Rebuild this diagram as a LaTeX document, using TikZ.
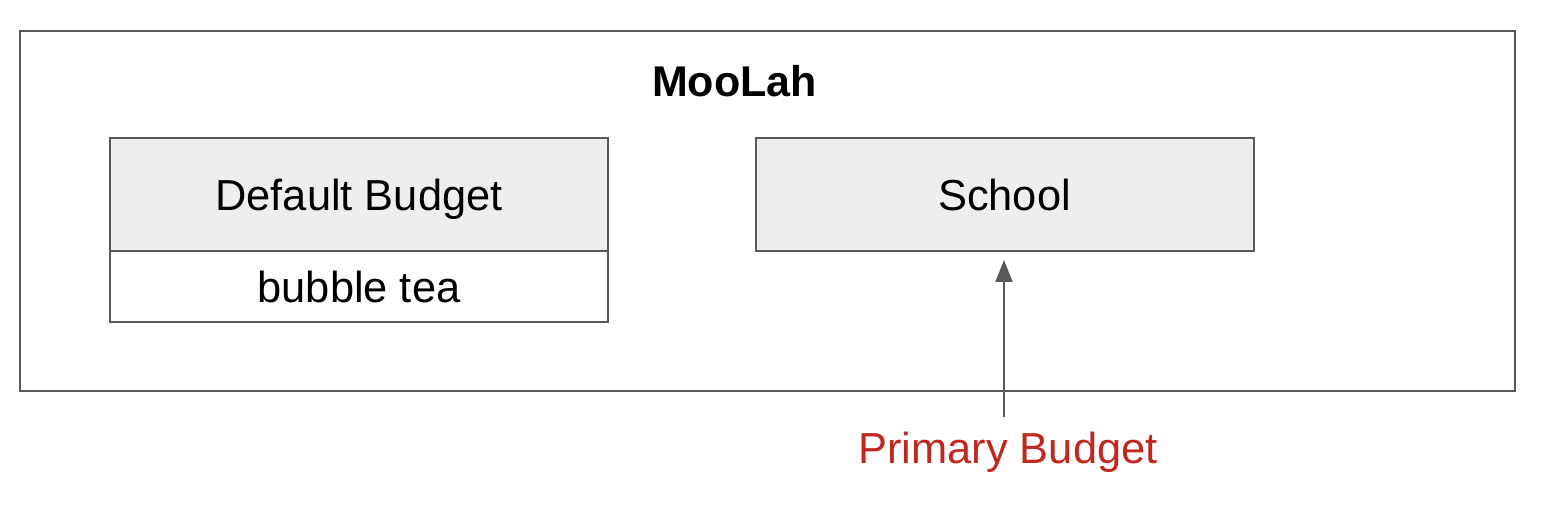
\documentclass[tikz,border=0pt]{standalone}
\usepackage{fontspec}
\setmainfont{Liberation Sans}
\usetikzlibrary{positioning,arrows.meta}

\definecolor{linegray}{HTML}{595959}
\definecolor{headfill}{HTML}{EEEEEE}
\definecolor{notered}{RGB}{192,40,30}

\begin{document}
\begin{tikzpicture}[
                x=0.5pt, y=-0.5pt,
                box/.style={draw=linegray, line width=1pt, rectangle, inner sep=0pt, outer sep=0pt,
                            minimum width=249pt, font=\fontsize{21.7}{26}\selectfont},
                headbox/.style={box, fill=headfill, minimum height=56.5pt, text depth=0pt},
                itembox/.style={box, fill=white, minimum height=35.5pt},
                arr/.style={draw=linegray, line width=1pt, -{Triangle[length=11pt,width=8.5pt]}}
            ]
                \useasboundingbox (0,0) rectangle (1554,518);
                \node (frame) [draw=linegray, line width=1pt, rectangle, inner sep=0pt,
                               minimum width=747.5pt, minimum height=180pt] at (767.5,211) {};
                \node (title) at (734.5,81) {\fontsize{21.5}{26}\selectfont\bfseries MooLah};
                \node (default) [headbox] at (359,194.5) {Default Budget};
                \node (tea) [itembox, below=0pt of default] {bubble tea};
                \node (school) [headbox] at (1004.5,194.5) {School};
                \node (prim) [text=notered, font=\fontsize{21.7}{26}\selectfont] at (1008,452) {Primary Budget};
                \coordinate (tail) at (1004,417);
                \draw[arr] (tail) -- (tail |- school.south) [shorten >=4.5pt];
            \end{tikzpicture}
\end{document}
